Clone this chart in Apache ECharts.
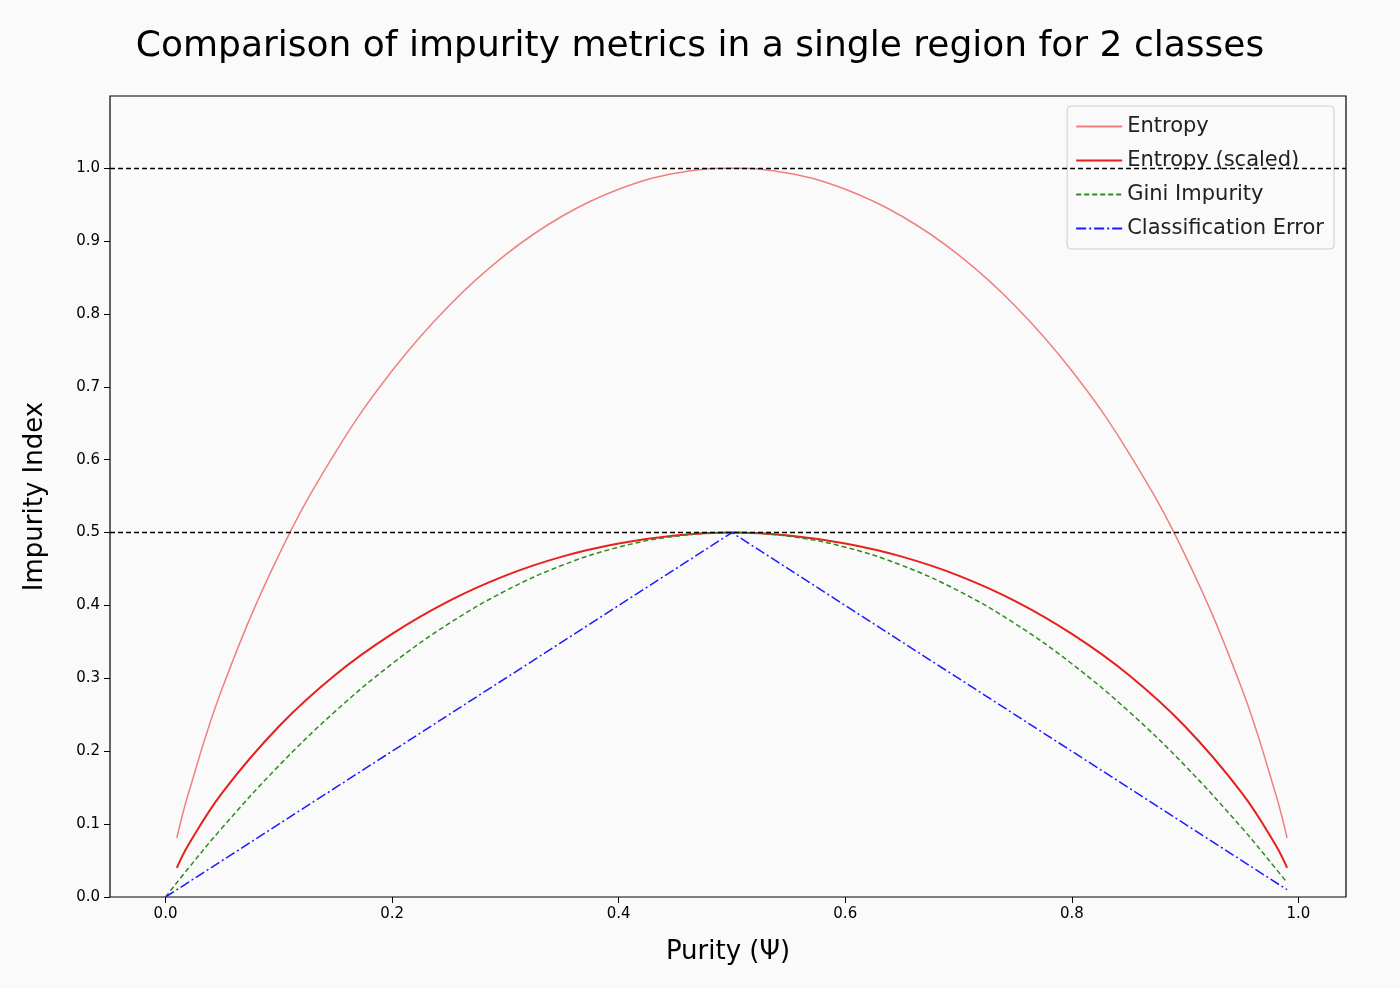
<!DOCTYPE html>
<html>
<head>
<meta charset="utf-8" />
<title>impurity</title>
<script src="https://cdn.jsdelivr.net/npm/echarts@6/dist/echarts.min.js"></script>
</head>
<body style="margin:0;background:#fafafa;">
<div id="chart" style="width:1400px;height:988px;"></div>
<script>
// purity values
var xs = [0.01, 0.02, 0.05, 0.1, 0.15, 0.2, 0.25, 0.3, 0.35, 0.4, 0.45, 0.5,
          0.55, 0.6, 0.65, 0.7, 0.75, 0.8, 0.85, 0.9, 0.95, 0.98, 0.99];
var entropy = [0.081, 0.141, 0.286, 0.469, 0.610, 0.722, 0.811, 0.881, 0.934, 0.971, 0.993, 1.0,
               0.993, 0.971, 0.934, 0.881, 0.811, 0.722, 0.610, 0.469, 0.286, 0.141, 0.081];
var entropyScaled = [0.040, 0.071, 0.143, 0.234, 0.305, 0.361, 0.406, 0.441, 0.467, 0.485, 0.496, 0.5,
                     0.496, 0.485, 0.467, 0.441, 0.406, 0.361, 0.305, 0.234, 0.143, 0.071, 0.040];
var giniX = [0.0, 0.02, 0.05, 0.1, 0.15, 0.2, 0.25, 0.3, 0.35, 0.4, 0.45, 0.5,
             0.55, 0.6, 0.65, 0.7, 0.75, 0.8, 0.85, 0.9, 0.95, 0.98, 0.99];
var gini = [0.0, 0.039, 0.095, 0.18, 0.255, 0.32, 0.375, 0.42, 0.455, 0.48, 0.495, 0.5,
            0.495, 0.48, 0.455, 0.42, 0.375, 0.32, 0.255, 0.18, 0.095, 0.039, 0.0198];
var errX = [0.0, 0.5, 0.99];
var err = [0.0, 0.5, 0.01];
var xTicks = [0, 0.2, 0.4, 0.6, 0.8, 1.0];
var yTicks = [0, 0.1, 0.2, 0.3, 0.4, 0.5, 0.6, 0.7, 0.8, 0.9, 1.0];

function pairs(x, y) {
  var out = [];
  for (var i = 0; i < x.length; i++) out.push([x[i], y[i]]);
  return out;
}

var chart = echarts.init(document.getElementById('chart'));
var option = {
  backgroundColor: '#fafafa',
  animation: false,
  title: {
    text: 'Comparison of impurity metrics in a single region for 2 classes',
    left: 'center', top: 24,
    textStyle: {fontFamily: 'DejaVu Sans', fontSize: 36, fontWeight: 'normal', color: '#000'}
  },
  legend: {
    orient: 'vertical', right: 66, top: 106,
    backgroundColor: '#fafafa', borderColor: '#ccc', borderWidth: 1, borderRadius: 4,
    padding: [10, 10, 10, 8], itemGap: 13, itemWidth: 46, itemHeight: 22,
    itemStyle: {opacity: 0},
    textStyle: {fontFamily: 'DejaVu Sans', fontSize: 21, color: '#222'},
    data: ['Entropy', 'Entropy (scaled)', 'Gini Impurity', 'Classification Error']
  },
  grid: {left: 110, right: 54, top: 96, bottom: 91, show: true, borderColor: '#000', borderWidth: 1.2, backgroundColor: '#fafafa'},
  xAxis: {
    type: 'value', min: -0.049, max: 1.042,
    name: 'Purity (Ψ)', nameLocation: 'middle', nameGap: 42,
    nameTextStyle: {fontFamily: 'DejaVu Sans', fontSize: 26, color: '#000'},
    axisLine: {show: false, onZero: false},
    axisTick: {show: true, customValues: xTicks, length: 6, lineStyle: {color: '#000'}},
    axisLabel: {customValues: xTicks, formatter: function (v) { return v.toFixed(1); },
      fontFamily: 'DejaVu Sans', fontSize: 15, color: '#000', margin: 10},
    splitLine: {show: false}
  },
  yAxis: {
    type: 'value', min: 0, max: 1.099,
    name: 'Impurity Index', nameLocation: 'middle', nameGap: 62,
    nameTextStyle: {fontFamily: 'DejaVu Sans', fontSize: 26, color: '#000'},
    axisLine: {show: false, onZero: false},
    axisTick: {show: true, customValues: yTicks, length: 6, lineStyle: {color: '#000'}},
    axisLabel: {customValues: yTicks, formatter: function (v) { return v.toFixed(1); },
      fontFamily: 'DejaVu Sans', fontSize: 15, color: '#000', margin: 10},
    splitLine: {show: false}
  },
  series: [
    {
      name: 'Entropy', type: 'line', smooth: 0.4, symbol: 'none',
      data: pairs(xs, entropy),
      itemStyle: {color: '#f08080'},
      lineStyle: {color: '#f08080', width: 1.5},
      markLine: {
        silent: true, symbol: 'none', label: {show: false},
        lineStyle: {color: '#000', type: [5, 3], width: 1.3},
        data: [{yAxis: 0.5}, {yAxis: 1.0}]
      }
    },
    {
      name: 'Entropy (scaled)', type: 'line', smooth: 0.4, symbol: 'none',
      data: pairs(xs, entropyScaled),
      itemStyle: {color: '#e8201c'},
      lineStyle: {color: '#e8201c', width: 2}
    },
    {
      name: 'Gini Impurity', type: 'line', smooth: 0.4, symbol: 'none',
      data: pairs(giniX, gini),
      itemStyle: {color: '#2e8b20'},
      lineStyle: {color: '#2e8b20', width: 1.5, type: [5, 3]}
    },
    {
      name: 'Classification Error', type: 'line', symbol: 'none',
      data: pairs(errX, err),
      itemStyle: {color: '#1a1aff'},
      lineStyle: {color: '#1a1aff', width: 1.5, type: [10, 3, 2, 3]}
    }
  ]
};
chart.setOption(option);
</script>
</body>
</html>
